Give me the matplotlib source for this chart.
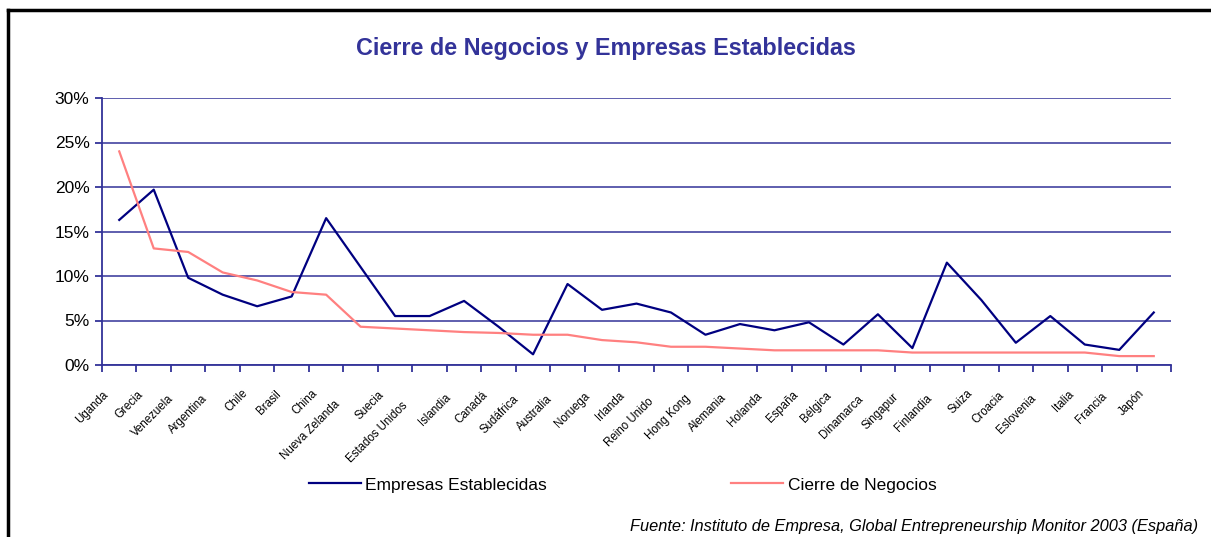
import matplotlib
matplotlib.use("Agg")
import matplotlib.pyplot as plt
from matplotlib import font_manager
from matplotlib.lines import Line2D
from matplotlib.ticker import FixedLocator, PercentFormatter

plt.rcParams["font.family"] = ["Liberation Sans", "DejaVu Sans"]
_names = {f.name for f in font_manager.fontManager.ttflist}
NARROW = "Liberation Sans Narrow" if "Liberation Sans Narrow" in _names else "Liberation Sans"

paises = ["Uganda", "Grecia", "Venezuela", "Argentina", "Chile", "Brasil", "China",
          "Nueva Zelanda", "Suecia", "Estados Unidos", "Islandia", "Canadá", "Sudáfrica",
          "Australia", "Noruega", "Irlanda", "Reino Unido", "Hong Kong", "Alemania",
          "Holanda", "España", "Bélgica", "Dinamarca", "Singapur", "Finlandia", "Suiza",
          "Croacia", "Eslovenia", "Italia", "Francia", "Japón"]
empresas = [16.3, 19.7, 9.8, 7.9, 6.6, 7.7, 16.5, 11.0, 5.5, 5.5, 7.2, 4.3, 1.2,
            9.1, 6.2, 6.9, 5.9, 3.4, 4.6, 3.9, 4.8, 2.3, 5.7, 1.9, 11.5, 7.3,
            2.5, 5.5, 2.3, 1.7, 5.9]
cierre = [24.0, 13.1, 12.7, 10.4, 9.5, 8.2, 7.9, 4.3, 4.1, 3.9, 3.7, 3.6, 3.4,
          3.4, 2.8, 2.55, 2.05, 2.05, 1.85, 1.65, 1.65, 1.65, 1.65, 1.4, 1.4, 1.4,
          1.4, 1.4, 1.4, 1.0, 1.0]

AXIS = "#333399"
NAVY = "#000080"
PINK = "#FF8080"

fig = plt.figure(figsize=(12.11, 5.37), dpi=100)
ax = fig.add_axes([102 / 1211, 1 - 365 / 537, (1171 - 102) / 1211, (365 - 98) / 537])

x = list(range(len(paises)))
ax.plot(x, empresas, color=NAVY, lw=1.6, label="Empresas Establecidas")
ax.plot(x, cierre, color=PINK, lw=1.6, label="Cierre de Negocios")

ax.set_xlim(-0.5, len(paises) - 0.5)
ax.set_ylim(0, 30)
ax.yaxis.set_major_locator(FixedLocator([0, 5, 10, 15, 20, 25, 30]))
ax.yaxis.set_major_formatter(PercentFormatter(decimals=0))
ax.grid(axis="y", color=AXIS, lw=1.1)
ax.set_axisbelow(True)

for s in ("top", "right"):
    ax.spines[s].set_visible(False)
for s in ("left", "bottom"):
    ax.spines[s].set_color(AXIS)
    ax.spines[s].set_linewidth(1.3)

ax.tick_params(axis="y", colors=AXIS, length=5, width=1.3, labelsize=12.5,
               labelcolor="black", pad=4)
ax.set_xticks([i - 0.5 for i in range(len(paises) + 1)])
ax.tick_params(axis="x", colors=AXIS, length=5, width=1.3, labelbottom=False)

# rotated category labels; longer names sit further down-left, as in the original
for i, name in enumerate(paises):
    extra = 1.0 * (len(name) - 6)
    ax.annotate(name, xy=(i, 0), xycoords=("data", "axes fraction"),
                xytext=(-12 - extra, -17 - extra),
                textcoords="offset points", rotation=45, ha="right", va="top",
                rotation_mode="anchor", fontsize=8.3, family=NARROW)

fig.text(0.5, 1 - 48 / 537, "Cierre de Negocios y Empresas Establecidas",
         ha="center", va="center", fontsize=16.8, fontweight="bold", color=AXIS)

handles = [Line2D([], [], color=NAVY, lw=1.6), Line2D([], [], color=PINK, lw=1.6)]
fig.legend(handles, ["Empresas Establecidas", "Cierre de Negocios"],
           loc="center left", bbox_to_anchor=(309 / 1211, 1 - 485 / 537), ncol=2,
           frameon=False, fontsize=12.5, handlelength=3.0, handletextpad=0.25,
           columnspacing=10.6, borderpad=0, borderaxespad=0)

fig.text(1198 / 1211, 1 - 526 / 537,
         "Fuente: Instituto de Empresa, Global Entrepreneurship Monitor 2003 (España)",
         ha="right", va="center", fontsize=11.8, style="italic")

# outer border of the chart area
fig.add_artist(Line2D([8 / 1211, 1], [1 - 10 / 537, 1 - 10 / 537],
                      transform=fig.transFigure, color="black", lw=2.5))
fig.add_artist(Line2D([8 / 1211, 8 / 1211], [0, 1 - 10 / 537],
                      transform=fig.transFigure, color="black", lw=2.5))

fig.savefig("out.png", dpi=100)
